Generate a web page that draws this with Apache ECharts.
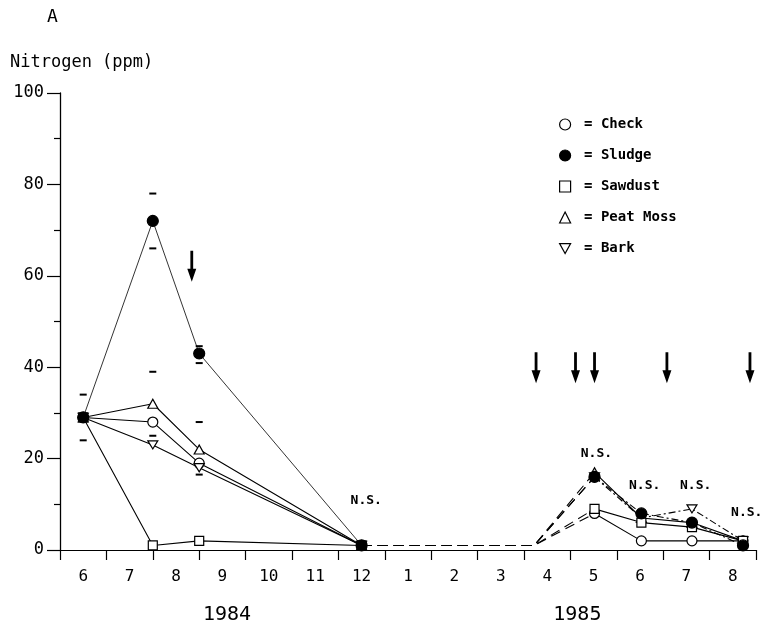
<!DOCTYPE html>
<html><head><meta charset="utf-8">
<script src="https://cdn.jsdelivr.net/npm/echarts@6/dist/echarts.min.js"></script>
<style>html,body{margin:0;padding:0;background:#fff}#c{width:767px;height:634px}</style>
</head><body><div id="c"></div>
<script>
// ---- data ----
const monthLabels = ['6','7','8','9','10','11','12','1','2','3','4','5','6','7','8'];
const yearLabels = ['1984', '1985'];
const yearPos = [3.6, 11.15];
const treatments = ['Check', 'Sludge', 'Sawdust', 'Peat Moss', 'Bark'];
// sampling times (months since start of June 1984)
const t1984 = [0.5, 2.0, 3.0, 6.5];
const t1985 = [11.52, 12.53, 13.62, 14.72];
const gapT = 10.22;
const gapV = 1;
const check84 = [29, 28, 19, 1];
const sludge84 = [29, 72, 43, 1];
const sawdust84 = [29, 1, 2, 1];
const peat84 = [29, 32, 22, 1];
const bark84 = [29, 23, 18, 1];
const check85 = [8, 2, 2, 2];
const sludge85 = [16, 8, 6, 1];
const sawdust85 = [9, 6, 5, 2];
const peat85 = [17, 7, 6, 2];
const bark85 = [16, 7, 9, 2];
// short LSD dashes
const errT = [0.5, 0.5, 2, 2, 2, 2, 3, 3, 3, 3];
const errV = [34, 24, 78, 66, 39, 25, 44.6, 40.9, 28, 16.5];
// application arrows (tip positions)
const arrowT = [2.84, 10.26, 11.11, 11.52, 13.08, 14.87];
const arrowV = [58.7, 36.5, 36.5, 36.5, 36.5, 36.5];
// N.S. annotations
const nsT = [6.6, 11.56, 12.6, 13.7, 14.8];
const nsV = [10.9, 21, 14, 14, 8.2];

// ---- chart ----
const FONT = 'DejaVu Sans Mono';
const chart = echarts.init(document.getElementById('c'), null, {renderer: 'canvas'});
const INV_TRI = 'path://M0,0 L10,0 L5,9 Z';
const styles = {
  'Check':     {symbol: 'circle', size: 10, fill: '#fff', z: 3},
  'Sludge':    {symbol: 'circle', size: 11, fill: '#000', z: 6},
  'Sawdust':   {symbol: 'rect', size: 9, fill: '#fff', z: 4},
  'Peat Moss': {symbol: 'triangle', size: [10, 9], fill: '#fff', z: 3},
  'Bark':      {symbol: INV_TRI, size: [10, 9], fill: '#fff', z: 3}
};
const v84 = {'Check': check84, 'Sludge': sludge84, 'Sawdust': sawdust84, 'Peat Moss': peat84, 'Bark': bark84};
const v85 = {'Check': check85, 'Sludge': sludge85, 'Sawdust': sawdust85, 'Peat Moss': peat85, 'Bark': bark85};
const lineType85 = {'Check': 'solid', 'Sludge': [7, 3, 2, 3], 'Sawdust': 'solid', 'Peat Moss': 'solid', 'Bark': [7, 3, 2, 3]};

const series = [];
treatments.forEach(name => {
  const st = styles[name];
  const a = v84[name], b = v85[name];
  const common = {
    name, type: 'line', xAxisIndex: 1, yAxisIndex: 0,
    symbol: st.symbol, symbolSize: st.size, symbolKeepAspect: true,
    itemStyle: {color: st.fill, borderColor: '#000', borderWidth: 1.2},
    emphasis: {disabled: true}, silent: true, z: st.z
  };
  series.push(Object.assign({}, common, {
    data: t1984.map((t, i) => [t, a[i]]),
    lineStyle: {color: '#000', width: name === 'Sludge' ? 0.8 : 1.1}
  }));
  series.push({
    name, type: 'line', xAxisIndex: 1, symbol: 'none', silent: true, z: 2,
    data: [[t1984[3], a[3]], [gapT, gapV], [t1985[0], b[0]]],
    lineStyle: {color: '#000', width: 1.1, type: [10, 6]}
  });
  series.push(Object.assign({}, common, {
    data: t1985.map((t, i) => [t, b[i]]),
    lineStyle: {color: '#000', width: 1.1, type: lineType85[name]}
  }));
});
series.push({
  type: 'scatter', xAxisIndex: 1, silent: true, z: 7,
  symbol: 'rect', symbolSize: [7, 2],
  itemStyle: {color: '#000', opacity: 1},
  data: errT.map((t, i) => [t, errV[i]])
});
series.push({
  type: 'scatter', xAxisIndex: 1, silent: true, z: 7,
  symbol: 'path://M3.1,0 L5.9,0 L5.9,18 L9,18 L4.5,31 L0,18 L3.1,18 Z',
  symbolSize: [9, 31], symbolOffset: [0, -15.5], symbolKeepAspect: false,
  itemStyle: {color: '#000', opacity: 1},
  data: arrowT.map((t, i) => [t, arrowV[i]])
});
series.push({
  type: 'scatter', xAxisIndex: 1, silent: true, z: 7,
  symbolSize: 1, itemStyle: {color: 'rgba(0,0,0,0)', opacity: 1},
  label: {show: true, position: 'inside', formatter: 'N.S.', color: '#000', opacity: 1,
          fontFamily: FONT, fontSize: 13, fontWeight: 'bold'},
  data: nsT.map((t, i) => [t, nsV[i]])
});

const option = {
  animation: false,
  backgroundColor: '#fff',
  grid: {left: 60, right: 11, top: 93, bottom: 84, containLabel: false},
  legend: {
    orient: 'vertical', left: 554, top: 111,
    itemWidth: 11, itemHeight: 11, itemGap: 14,
    selectedMode: false,
    data: [
      {name: 'Check', icon: 'circle'},
      {name: 'Sludge', icon: 'circle'},
      {name: 'Sawdust', icon: 'rect'},
      {name: 'Peat Moss', icon: 'triangle'},
      {name: 'Bark', icon: INV_TRI}
    ],
    itemStyle: {borderWidth: 1.2},
    formatter: n => ' = ' + n,
    textStyle: {fontFamily: FONT, fontSize: 14, lineHeight: 17, color: '#000', fontWeight: 'bold'}
  },
  xAxis: [
    {
      type: 'category', data: monthLabels, boundaryGap: true, position: 'bottom',
      axisLine: {lineStyle: {color: '#000', width: 1.2}},
      axisTick: {show: true, length: 10, alignWithLabel: false, lineStyle: {color: '#000', width: 1.2}},
      axisLabel: {fontFamily: FONT, fontSize: 16, color: '#000', margin: 19, interval: 0},
      splitLine: {show: false}
    },
    {type: 'value', min: 0, max: 15, show: false}
  ],
  yAxis: {
    type: 'value', min: 0, max: 100, interval: 20,
    axisLine: {show: true, lineStyle: {color: '#000', width: 1.3}},
    axisTick: {show: true, length: 13, lineStyle: {color: '#000', width: 1.2}},
    minorTick: {show: true, splitNumber: 2, length: 6, lineStyle: {color: '#000', width: 1.2}},
    axisLabel: {fontFamily: FONT, fontSize: 17, color: '#000', margin: 16},
    splitLine: {show: false}
  },
  series
};
chart.setOption(option);

const graphics = [
  {type: 'text', left: 47, top: 8, style: {text: 'A', font: '18px "DejaVu Sans Mono"', fill: '#000'}},
  {type: 'text', left: 10, top: 54, style: {text: 'Nitrogen (ppm)', font: '17px "DejaVu Sans Mono"', fill: '#000'}}
];
yearLabels.forEach((y, i) => {
  const px = chart.convertToPixel({xAxisIndex: 1}, yearPos[i]);
  graphics.push({type: 'text', x: px, y: 615, style: {text: y, font: '20px "DejaVu Sans Mono"', fill: '#000', align: 'center', verticalAlign: 'middle'}});
});
chart.setOption({graphic: graphics});
</script></body></html>
